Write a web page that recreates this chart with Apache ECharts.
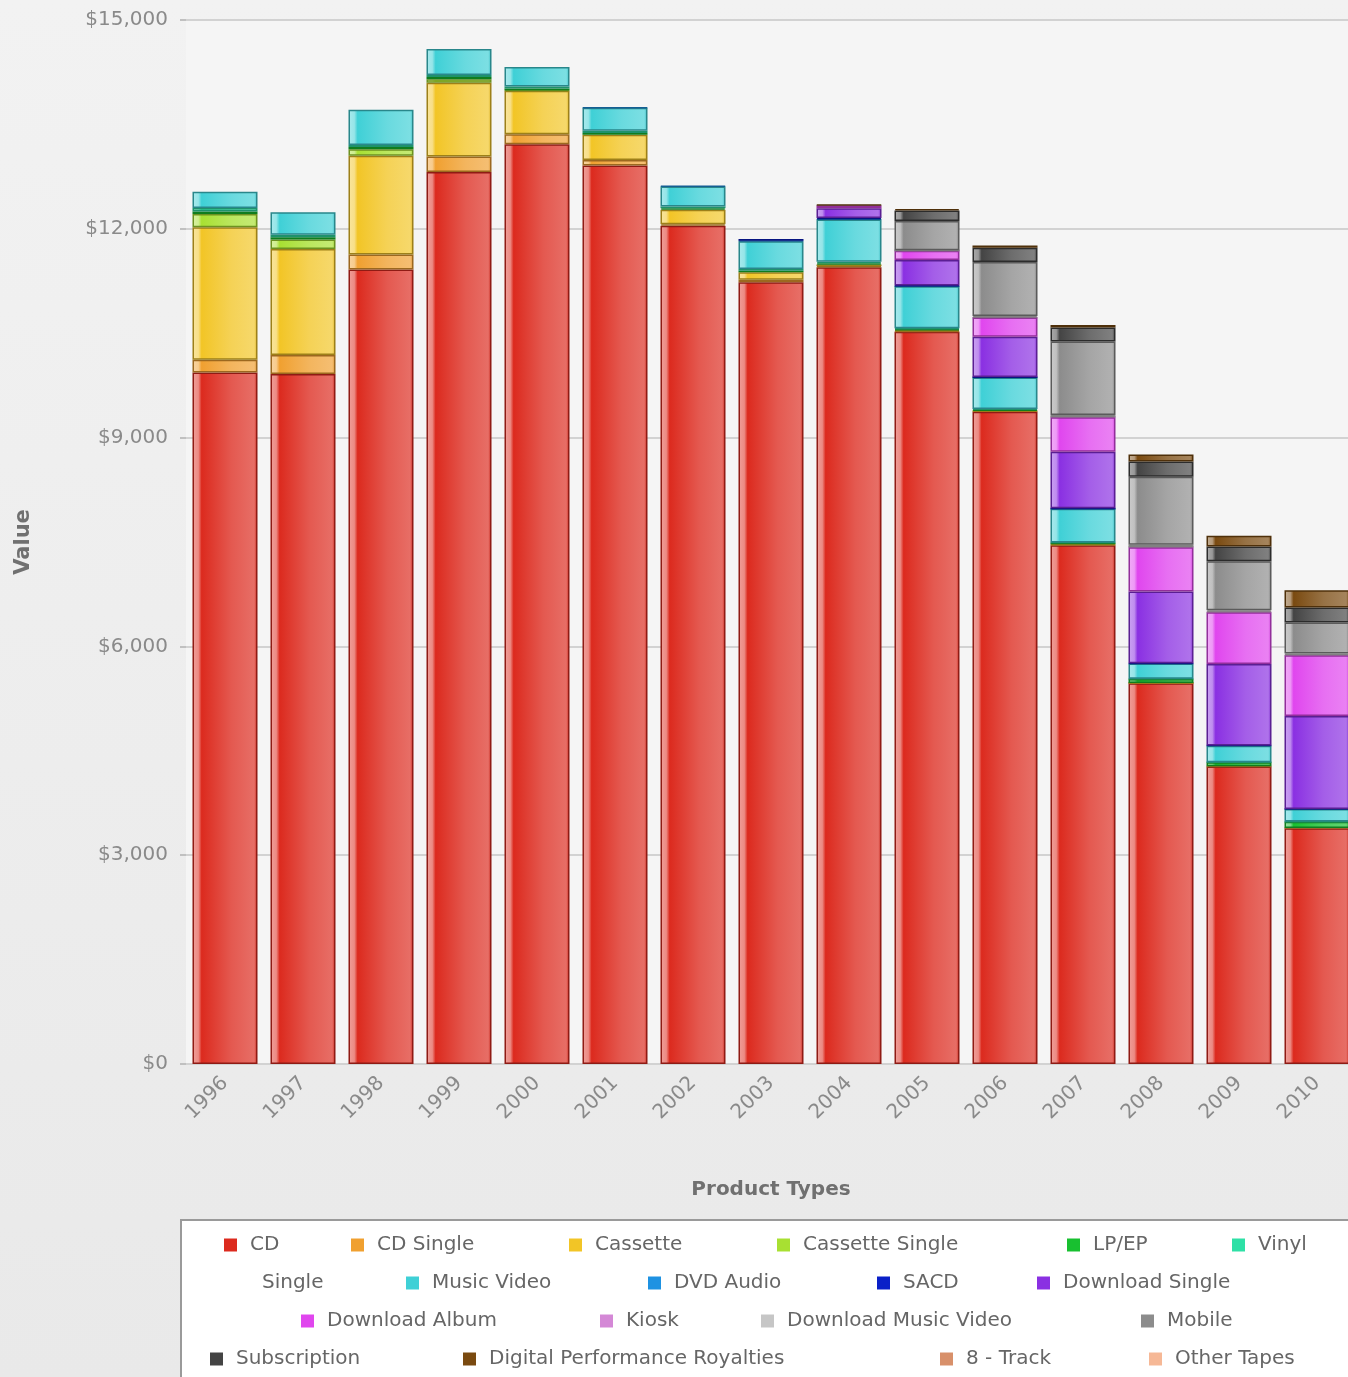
<!DOCTYPE html>
<html>
<head>
<meta charset="utf-8">
<title>Product Types by Year</title>
<script src="https://cdn.jsdelivr.net/npm/echarts/dist/echarts.min.js"></script>
<style>
    html, body { margin: 0; padding: 0; overflow: hidden; background: #eeeeee; }
    #chart { width: 1348px; height: 1377px; }
</style>
</head>
<body>
<div id="chart"></div>
<script>
// values in $ millions
const years = ['1996', '1997', '1998', '1999', '2000', '2001', '2002', '2003', '2004', '2005', '2006', '2007', '2008', '2009', '2010']

const cd                 = [9935, 9915, 11416, 12816, 13215, 12909, 12044, 11233, 11447, 10520, 9373, 7452, 5471, 4274, 3389]
const cdSingle           = [184, 273, 213, 222, 143, 79, 20, 36, 15, 11, 8, 12, 3, 3, 3]
const cassette           = [1905, 1523, 1420, 1062, 626, 363, 210, 108, 24, 13, 4, 3, 1, 0, 0]
const cassetteSingle     = [189, 134, 94, 48, 5, 0, 0, 0, 0, 0, 0, 0, 0, 0, 0]
const lpEp               = [37, 33, 34, 32, 28, 27, 21, 22, 19, 14, 16, 23, 57, 58, 89]
const vinylSingle        = [48, 36, 26, 28, 26, 31, 25, 22, 20, 13, 11, 4, 3, 2, 2]
const musicVideo         = [236, 324, 508, 377, 282, 329, 288, 400, 607, 602, 451, 485, 219, 236, 179]
const dvdAudio           = [0, 0, 0, 0, 0, 6, 9, 8, 7, 3, 3, 1, 0, 0, 0]
const sacd               = [0, 0, 0, 0, 0, 0, 0, 26, 17, 11, 3, 4, 4, 3, 2]
const downloadSingle     = [0, 0, 0, 0, 0, 0, 0, 0, 138, 363, 581, 811, 1032, 1172, 1336]
const downloadAlbum      = [0, 0, 0, 0, 0, 0, 0, 0, 46, 136, 276, 498, 635, 744, 872]
const kiosk              = [0, 0, 0, 0, 0, 0, 0, 0, 0, 1, 2, 3, 3, 6, 6]
const downloadMusicVideo = [0, 0, 0, 0, 0, 0, 0, 0, 0, 4, 20, 29, 31, 21, 19]
const mobile             = [0, 0, 0, 0, 0, 0, 0, 0, 0, 422, 774, 1056, 977, 703, 448]
const subscription       = [0, 0, 0, 0, 0, 0, 0, 0, 0, 149, 206, 201, 221, 213, 213]
const digitalRoyalties   = [0, 0, 0, 0, 0, 0, 0, 0, 7, 20, 33, 36, 100, 156, 249]
const eightTrack         = [0, 0, 0, 0, 0, 0, 0, 0, 0, 0, 0, 0, 0, 0, 0]
const otherTapes         = [0, 0, 0, 0, 0, 0, 0, 0, 0, 0, 0, 0, 0, 0, 0]

const seriesNames = ['CD', 'CD Single', 'Cassette', 'Cassette Single', 'LP/EP', 'Vinyl Single',
    'Music Video', 'DVD Audio', 'SACD', 'Download Single', 'Download Album', 'Kiosk',
    'Download Music Video', 'Mobile', 'Subscription', 'Digital Performance Royalties', '8 - Track', 'Other Tapes']
const seriesValues = [cd, cdSingle, cassette, cassetteSingle, lpEp, vinylSingle,
    musicVideo, dvdAudio, sacd, downloadSingle, downloadAlbum, kiosk,
    downloadMusicVideo, mobile, subscription, digitalRoyalties, eightTrack, otherTapes]

const yTicks = [0, 3000, 6000, 9000, 12000, 15000]

// styles
const colors = ['#dc2a1e', '#f0a030', '#f2c526', '#a8e032', '#18c030', '#2ee0a6',
    '#3fd0d6', '#1e92e2', '#0a20c8', '#8a30e2', '#e046ee', '#d488d6',
    '#c6c6c6', '#8c8c8c', '#444444', '#7a4a10', '#d8906a', '#f6b896']
// legend placement (icon left x, row)
const legendLeft = [224, 351, 569, 777, 1067, 1232, 406, 648, 877, 1037, 301, 600, 761, 1141, 210, 463, 940, 1149]
const legendRow  = [0, 0, 0, 0, 0, 0, 1, 1, 1, 1, 2, 2, 2, 2, 3, 3, 3, 3]
const rowCenter = [1246, 1284, 1322, 1360]
const FONT = '"DejaVu Sans", Verdana, sans-serif'

const mix = (hex, target, t) => {
    const a = [1, 3, 5].map(i => parseInt(hex.slice(i, i + 2), 16))
    const b = [1, 3, 5].map(i => parseInt(target.slice(i, i + 2), 16))
    const c = a.map((v, i) => Math.round(v + (b[i] - v) * t))
    return 'rgb(' + c.join(',') + ')'
}

const barFill = (c) => new echarts.graphic.LinearGradient(0, 0, 1, 0, [
    { offset: 0, color: mix(c, '#ffffff', 0.55) },
    { offset: 0.09, color: mix(c, '#ffffff', 0.45) },
    { offset: 0.14, color: c },
    { offset: 0.6, color: mix(c, '#ffffff', 0.22) },
    { offset: 0.95, color: mix(c, '#ffffff', 0.32) },
    { offset: 1, color: mix(c, '#000000', 0.1) },
])

const chart = echarts.init(document.getElementById('chart'))

const series = seriesNames.map((name, i) => ({
    name: name,
    type: 'bar',
    stack: 'total',
    barWidth: 65,
    data: seriesValues[i].map(v => (v > 0 ? v : null)),
    itemStyle: {
        color: barFill(colors[i]),
        borderColor: mix(colors[i], '#000000', 0.35),
        borderWidth: 1.5,
    },
    emphasis: { disabled: true },
}))

// one small legend per item so they sit where the original put them
const legends = seriesNames.map((name, i) => ({
    data: [{ name: name, itemStyle: { color: colors[i], borderWidth: 0 } }],
    icon: 'rect',
    left: legendLeft[i],
    top: rowCenter[legendRow[i]] - 11,
    padding: 0,
    itemWidth: 13,
    itemHeight: 13,
    z: 5,
    formatter: n => (n === 'Vinyl Single' ? 'Vinyl' : n),
    textStyle: { fontFamily: FONT, fontSize: 20, color: '#666666', padding: [0, 0, 0, 8] },
}))

const option = {
    animation: false,
    backgroundColor: new echarts.graphic.LinearGradient(0, 0, 0, 1, [
        { offset: 0, color: '#f2f2f2' },
        { offset: 1, color: '#e9e9e9' },
    ]),
    grid: {
        left: 186,
        top: 20,
        width: 1170,
        height: 1044,
        outerBoundsMode: 'none',
        containLabel: false,
        show: true,
        borderWidth: 0,
        backgroundColor: '#f5f5f5',
    },
    legend: legends,
    graphic: [
        {
            type: 'rect',
            z: 1,
            shape: { x: 181, y: 1220, width: 1200, height: 170 },
            style: { fill: '#ffffff', stroke: '#9a9a9a', lineWidth: 2 },
        },
        {
            type: 'text',
            z: 5,
            left: 262,
            top: rowCenter[1] - 11,
            style: { text: 'Single', font: '20px ' + FONT, fill: '#666666' },
        },
    ],
    xAxis: {
        type: 'category',
        data: years,
        name: 'Product Types',
        nameLocation: 'middle',
        nameGap: 116,
        nameTextStyle: { fontFamily: FONT, fontSize: 20, fontWeight: 'bold', color: '#707070' },
        axisLine: { show: false },
        axisTick: { show: false },
        axisLabel: { rotate: 45, margin: 16, fontFamily: FONT, fontSize: 20, color: '#8a8a8a' },
    },
    yAxis: {
        type: 'value',
        min: 0,
        max: yTicks[yTicks.length - 1],
        interval: yTicks[1] - yTicks[0],
        name: 'Value',
        nameLocation: 'middle',
        nameGap: 152,
        nameTextStyle: { fontFamily: FONT, fontSize: 21, fontWeight: 'bold', color: '#707070' },
        axisLine: { show: false },
        axisTick: { show: true, length: 6, lineStyle: { color: '#c0c0c0', width: 2 } },
        axisLabel: {
            margin: 18,
            fontFamily: FONT,
            fontSize: 20,
            color: '#8a8a8a',
            formatter: v => '$' + v.toLocaleString('en-US'),
        },
        splitLine: { lineStyle: { color: '#d2d2d2', width: 2 } },
    },
    series: series,
}

chart.setOption(option)
</script>
</body>
</html>
